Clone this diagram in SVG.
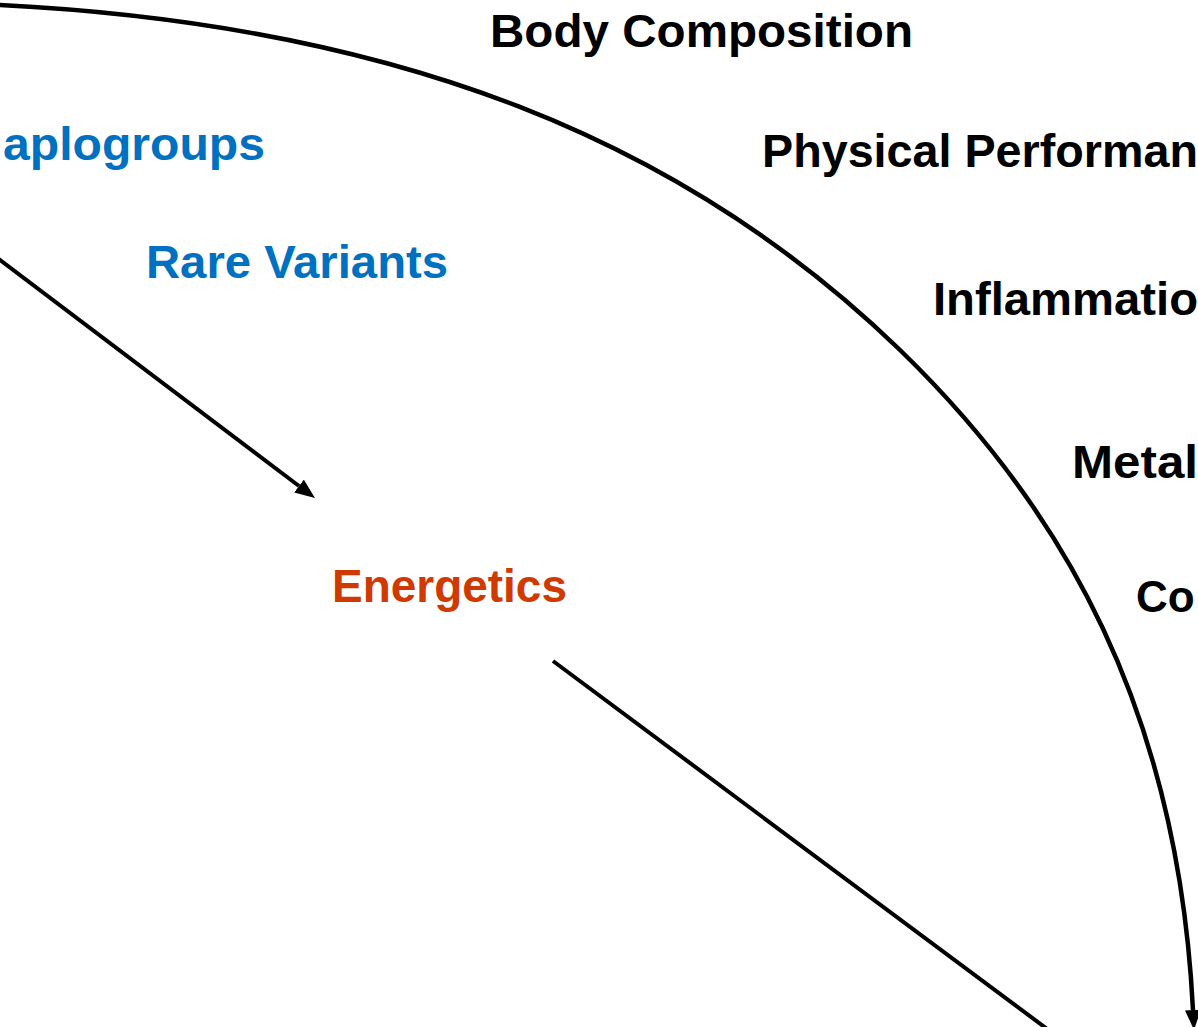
<svg xmlns="http://www.w3.org/2000/svg" width="1198" height="1027" viewBox="0 0 1198 1027">
<style>
.t{font-family:"Liberation Sans",Arial,sans-serif;font-weight:bold;font-size:46px}
.blue{fill:#0070C0}
.red{fill:#D03A00}
.blk{fill:#000}
.ln{fill:none;stroke:#000;stroke-width:4}
.curve{stroke-width:4.5}
</style>
<defs>
<marker id="ah" markerUnits="userSpaceOnUse" markerWidth="22" markerHeight="18" refX="0" refY="8" orient="auto">
<path d="M0,0 L20,8 L0,16 z" fill="#000"/>
</marker>
</defs>
<rect width="1198" height="1027" fill="#fff"/>
<g id="connectors">
<path class="ln curve" d="M-40,3 L0,5 C400,25 684.6,141.2 900,350 C1065.1,510 1178,712 1193,1010" marker-end="url(#ah)"/>
<line class="ln" x1="-20" y1="245" x2="299" y2="486" marker-end="url(#ah)"/>
<line class="ln" x1="553" y1="661" x2="1070" y2="1046"/>
</g>
<g id="node-body-composition"><text class="t blk" x="490" y="47" textLength="423" lengthAdjust="spacingAndGlyphs">Body Composition</text></g>
<g id="node-haplogroups"><text class="t blue" x="3" y="160" textLength="262" lengthAdjust="spacingAndGlyphs">aplogroups</text></g>
<g id="node-physical-performance"><text class="t blk" x="762" y="167" textLength="436" lengthAdjust="spacingAndGlyphs">Physical Performan</text></g>
<g id="node-rare-variants"><text class="t blue" x="146" y="278" textLength="302" lengthAdjust="spacingAndGlyphs">Rare Variants</text></g>
<g id="node-inflammation"><text class="t blk" x="933" y="315" textLength="265" lengthAdjust="spacingAndGlyphs">Inflammatio</text></g>
<g id="node-metal"><text class="t blk" x="1072" y="478" textLength="126" lengthAdjust="spacingAndGlyphs">Metal</text></g>
<g id="node-energetics"><text class="t red" x="332" y="602" textLength="235" lengthAdjust="spacingAndGlyphs">Energetics</text></g>
<g id="node-co"><text class="t blk" x="1136" y="612" style="font-size:44px">Co</text></g>
</svg>
